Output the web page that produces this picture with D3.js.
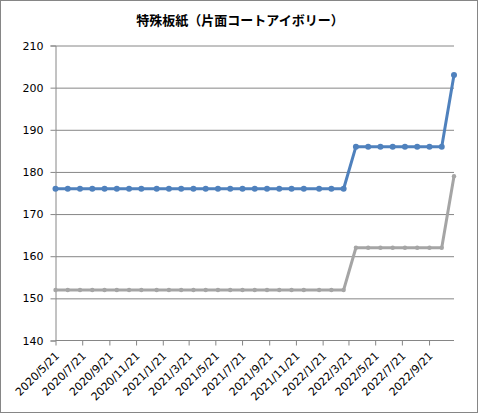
<!DOCTYPE html>
<html><head><meta charset="utf-8">
<script src="https://cdn.jsdelivr.net/npm/d3@7"></script>
<style>html,body{margin:0;padding:0;background:#fff;}svg{display:block;}</style>
</head><body>
<script>
const title = "特殊板紙（片面コートアイボリー）";
const dates = ["2020-05-21","2020-06-18","2020-07-16","2020-08-13","2020-09-10","2020-10-08","2020-11-05","2020-12-03",
"2021-01-07","2021-02-04","2021-03-04","2021-04-01","2021-04-29","2021-05-27","2021-06-24","2021-07-22","2021-08-19",
"2021-09-16","2021-10-14","2021-11-11","2021-12-09","2022-01-13","2022-02-10","2022-03-10","2022-04-07","2022-05-05",
"2022-06-02","2022-06-30","2022-07-28","2022-08-25","2022-09-22","2022-10-20","2022-11-17"];
const seriesBlue = [176,176,176,176,176,176,176,176,176,176,176,176,176,176,176,176,176,176,176,176,176,176,176,176,
186,186,186,186,186,186,186,186,203];
const seriesGray = [152,152,152,152,152,152,152,152,152,152,152,152,152,152,152,152,152,152,152,152,152,152,152,152,
162,162,162,162,162,162,162,162,179];
const xTickLabels = ["2020/5/21","2020/7/21","2020/9/21","2020/11/21","2021/1/21","2021/3/21","2021/5/21","2021/7/21",
"2021/9/21","2021/11/21","2022/1/21","2022/3/21","2022/5/21","2022/7/21","2022/9/21"];
const yTicks = [140,150,160,170,180,190,200,210];

const W = 480, H = 414;
const parse = s => { const [y,m,d] = s.split(/[-\/]/).map(Number); return new Date(Date.UTC(y,m-1,d)); };
const svg = d3.select("body").append("svg").attr("width",W).attr("height",H);
svg.append("rect").attr("x",0.5).attr("y",0.5).attr("width",477).attr("height",412)
  .attr("fill","#fff").attr("stroke","#868686").attr("stroke-width",1);

const x = d3.scaleUtc().domain([parse(dates[0]), parse(dates[dates.length-1])]).range([55.5, 454]);
const y = d3.scaleLinear().domain([140,210]).range([340.5, 45.5]);

svg.append("text").attr("x",240).attr("y",25).attr("text-anchor","middle")
  .attr("font-family","'Noto Sans CJK JP'").attr("font-weight","bold").attr("font-size",13)
  .attr("fill","#000").text(title);

// y grid + axis
const yAxis = d3.axisLeft(y).tickValues(yTicks).tickSize(5).tickPadding(7).tickFormat(d3.format("d"));
const gy = svg.append("g").attr("transform","translate(55.5,0)").call(yAxis);
gy.select(".domain").attr("stroke","#868686");
gy.selectAll(".tick line").attr("stroke","#868686");
gy.selectAll(".tick text").attr("font-family","'DejaVu Sans'").attr("font-size",11).attr("fill","#000");
gy.selectAll(".tick").filter(d => d !== 140).append("line")
  .attr("x1",0).attr("x2",454-55.5).attr("stroke","#868686");

// x axis
const xAxis = d3.axisBottom(x).tickValues(xTickLabels.map(parse)).tickSize(5)
  .tickFormat((d,i) => xTickLabels[i]);
const gx = svg.append("g").attr("transform","translate(0,340.5)").call(xAxis);
gx.select(".domain").attr("stroke","#868686").attr("d","M55.5,0H454");
gx.selectAll(".tick line").attr("stroke","#868686");
gx.selectAll(".tick text").attr("font-family","'DejaVu Sans'").attr("font-size",11).attr("fill","#000")
  .attr("text-anchor","end").attr("dy",null).attr("y",null)
  .attr("transform","translate(4,16) rotate(-45)");

const pts = s => dates.map((d,i) => [x(parse(d)), y(s[i])]);
const line = d3.line();
[[seriesGray,"#A5A5A5",2.2],[seriesBlue,"#4F81BD",3]].forEach(([s,c,r]) => {
  const p = pts(s);
  svg.append("path").attr("d",line(p)).attr("fill","none").attr("stroke",c).attr("stroke-width",3)
    .attr("stroke-linejoin","round");
  svg.append("g").selectAll("circle").data(p).join("circle")
    .attr("cx",d=>d[0]).attr("cy",d=>d[1]).attr("r",r).attr("fill",c);
});
</script>
</body></html>
